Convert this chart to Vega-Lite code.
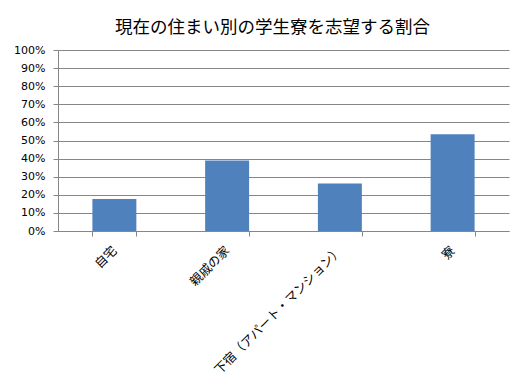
{
  "$schema": "https://vega.github.io/schema/vega-lite/v6.json",
  "autosize": {"type": "none"},
  "padding": {"left": 58, "top": 50, "right": 11, "bottom": 157},
  "width": 451,
  "height": 181,
  "background": "white",
  "title": {
    "text": "現在の住まい別の学生寮を志望する割合",
    "font": "Noto Sans CJK JP",
    "fontSize": 17.5,
    "fontWeight": "normal",
    "color": "#000000",
    "anchor": "middle",
    "dx": -11,
    "offset": 8
  },
  "data": {
    "values": [
      {"category": "自宅", "value": 0.177},
      {"category": "親戚の家", "value": 0.389},
      {"category": "下宿（アパート・マンション）", "value": 0.263},
      {"category": "寮", "value": 0.534}
    ]
  },
  "mark": {"type": "bar", "color": "#4F81BD"},
  "encoding": {
    "x": {
      "field": "category",
      "type": "nominal",
      "sort": null,
      "scale": {"paddingInner": 0.61, "paddingOuter": 0.305},
      "axis": {
        "title": null,
        "labelAngle": -45,
        "labelAlign": "right",
        "labelBaseline": "middle",
        "labelFont": "Noto Sans CJK JP",
        "labelFontSize": 12.5,
        "labelColor": "#000000",
        "labelPadding": 12,
        "tickBand": "extent",
        "domainColor": "#868686",
        "tickColor": "#868686",
        "tickSize": 5,
        "grid": false
      }
    },
    "y": {
      "field": "value",
      "type": "quantitative",
      "scale": {"domain": [0, 1], "nice": false},
      "axis": {
        "title": null,
        "format": ".0%",
        "values": [0, 0.1, 0.2, 0.3, 0.4, 0.5, 0.6, 0.7, 0.8, 0.9, 1],
        "labelFont": "DejaVu Sans",
        "labelFontSize": 11,
        "labelColor": "#000000",
        "labelPadding": 8,
        "domainColor": "#868686",
        "tickColor": "#868686",
        "tickSize": 5,
        "gridColor": "#868686",
        "gridWidth": 1
      }
    }
  },
  "config": {
    "view": {"stroke": null}
  }
}
